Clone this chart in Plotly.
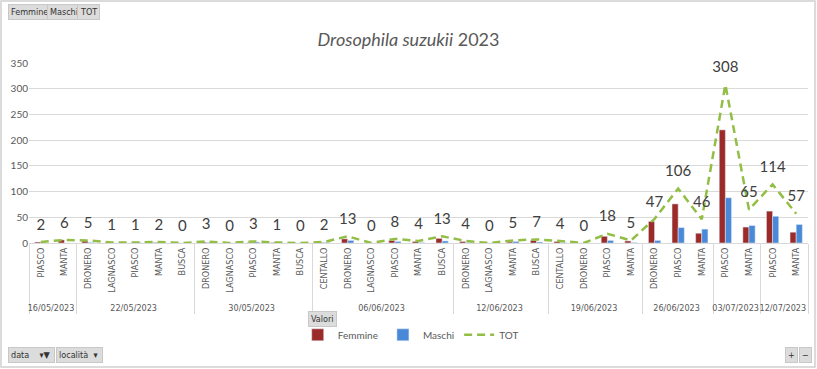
import plotly.graph_objects as go

data_date = (["16/05/2023"] * 2 + ["22/05/2023"] * 5 + ["30/05/2023"] * 5 +
             ["06/06/2023"] * 6 + ["12/06/2023"] * 4 + ["19/06/2023"] * 4 +
             ["26/06/2023"] * 3 + ["03/07/2023"] * 2 + ["12/07/2023"] * 2)
localita = ["PIASCO", "MANTA",
            "DRONERO", "LAGNASCO", "PIASCO", "MANTA", "BUSCA",
            "DRONERO", "LAGNASCO", "PIASCO", "MANTA", "BUSCA",
            "CENTALLO", "DRONERO", "LAGNASCO", "PIASCO", "MANTA", "BUSCA",
            "DRONERO", "LAGNASCO", "MANTA", "BUSCA",
            "CENTALLO", "DRONERO", "PIASCO", "MANTA",
            "DRONERO", "PIASCO", "MANTA",
            "PIASCO", "MANTA",
            "PIASCO", "MANTA"]
femmine = [2, 6, 4, 1, 0, 1, 0, 2, 0, 1, 1, 0, 1, 8, 0, 5, 3, 9,
           3, 0, 2, 5, 3, 0, 13, 4, 42, 76, 19, 220, 31, 62, 21]
maschi = [0, 0, 1, 0, 1, 1, 0, 1, 0, 2, 0, 0, 1, 5, 0, 3, 1, 4,
          1, 0, 3, 2, 1, 0, 5, 1, 5, 30, 27, 88, 34, 52, 36]
tot = [2, 6, 5, 1, 1, 2, 0, 3, 0, 3, 1, 0, 2, 13, 0, 8, 4, 13,
       4, 0, 5, 7, 4, 0, 18, 5, 47, 106, 46, 308, 65, 114, 57]

FONT = "Lato, 'Liberation Sans', sans-serif"
AXFONT = "'Liberation Sans Narrow', 'DejaVu Sans Condensed', Lato, sans-serif"
GRAY = "#595959"

# keep the data order inside each date group (invisible zero-width suffix per group)
group_index = {}
for d in data_date:
    group_index.setdefault(d, len(group_index))
inner = [loc + "\u200b" * group_index[d] for d, loc in zip(data_date, localita)]
x = [data_date, inner]

fig = go.Figure()
fig.add_trace(go.Bar(x=x, y=femmine, name="Femmine", marker_color="#9A2B28"))
fig.add_trace(go.Bar(x=x, y=maschi, name="Maschi", marker_color="#4A88D8"))
fig.add_trace(go.Scatter(
    x=x, y=tot, name="TOT", mode="lines+markers+text",
    line=dict(color="#92BE45", width=2.5, dash="8px,5px"),
    marker=dict(size=12, color="rgba(0,0,0,0)"),
    text=[str(v) for v in tot], textposition="top center",
    textfont=dict(size=15, color="#404040", family=FONT),
    cliponaxis=False))

fig.update_layout(
    width=817, height=369,
    margin=dict(l=29, r=9, t=63, b=126, autoexpand=False),
    paper_bgcolor="white", plot_bgcolor="white",
    font=dict(family=FONT, color=GRAY),
    barmode="group", bargap=0.48, bargroupgap=0,
    title=dict(text="<i>Drosophila suzukii</i> 2023", x=0.5, xanchor="center",
               y=0.893, yanchor="middle", font=dict(size=18, color=GRAY, family=FONT)),
    showlegend=True,
    legend=dict(orientation="h", x=0.49, xanchor="center", y=-0.51, yanchor="middle",
                font=dict(size=10, color=GRAY), itemwidth=30, traceorder="normal"),
    xaxis=dict(type="multicategory", tickangle=-90,
               tickfont=dict(size=9, color=GRAY, family=AXFONT),
               range=[-0.5, len(tot) - 0.5], automargin=False,
               showline=True, linecolor="#D9D9D9", ticks="",
               showdividers=True, dividercolor="#D9D9D9", dividerwidth=1),
    yaxis=dict(range=[0, 350], dtick=50, showgrid=True, gridcolor="#D9D9D9",
               zeroline=False, tickfont=dict(size=10, color=GRAY), ticks="",
               automargin=False),
)

btn = dict(bgcolor="#DCDCDC", bordercolor="#C8C8C8", borderwidth=1, borderpad=2,
           showarrow=False, xref="paper", yref="paper",
           font=dict(size=9, color="#333333", family=AXFONT))
def px(xp):
    return (xp - 29) / 779
def py(yp):
    return (243 - yp) / 180

for t, lx in [("Femmine", 8), ("Maschi", 47), ("TOT", 77)]:
    fig.add_annotation(text=t, x=px(lx), y=py(12), xanchor="left", yanchor="middle", **btn)
fig.add_annotation(text="Valori", x=px(308), y=py(319), xanchor="left", yanchor="middle", **btn)
fig.add_annotation(text="data    \u25be\u25bc ", x=px(8), y=py(355), xanchor="left", yanchor="middle", **btn)
fig.add_annotation(text="località  \u25be ", x=px(56), y=py(355), xanchor="left", yanchor="middle", **btn)
fig.add_annotation(text="+", x=px(791), y=py(355), xanchor="center", yanchor="middle", **btn)
fig.add_annotation(text="\u2212", x=px(805), y=py(355), xanchor="center", yanchor="middle", **btn)

fig.add_shape(type="rect", xref="paper", yref="paper", x0=px(1), x1=px(815), y0=py(367), y1=py(1),
              line=dict(color="#D0D0D0", width=1.5), fillcolor="rgba(0,0,0,0)", layer="below")

fig.write_html("out.html", config={"displayModeBar": False},
               post_script="document.body.style.margin='0';")
